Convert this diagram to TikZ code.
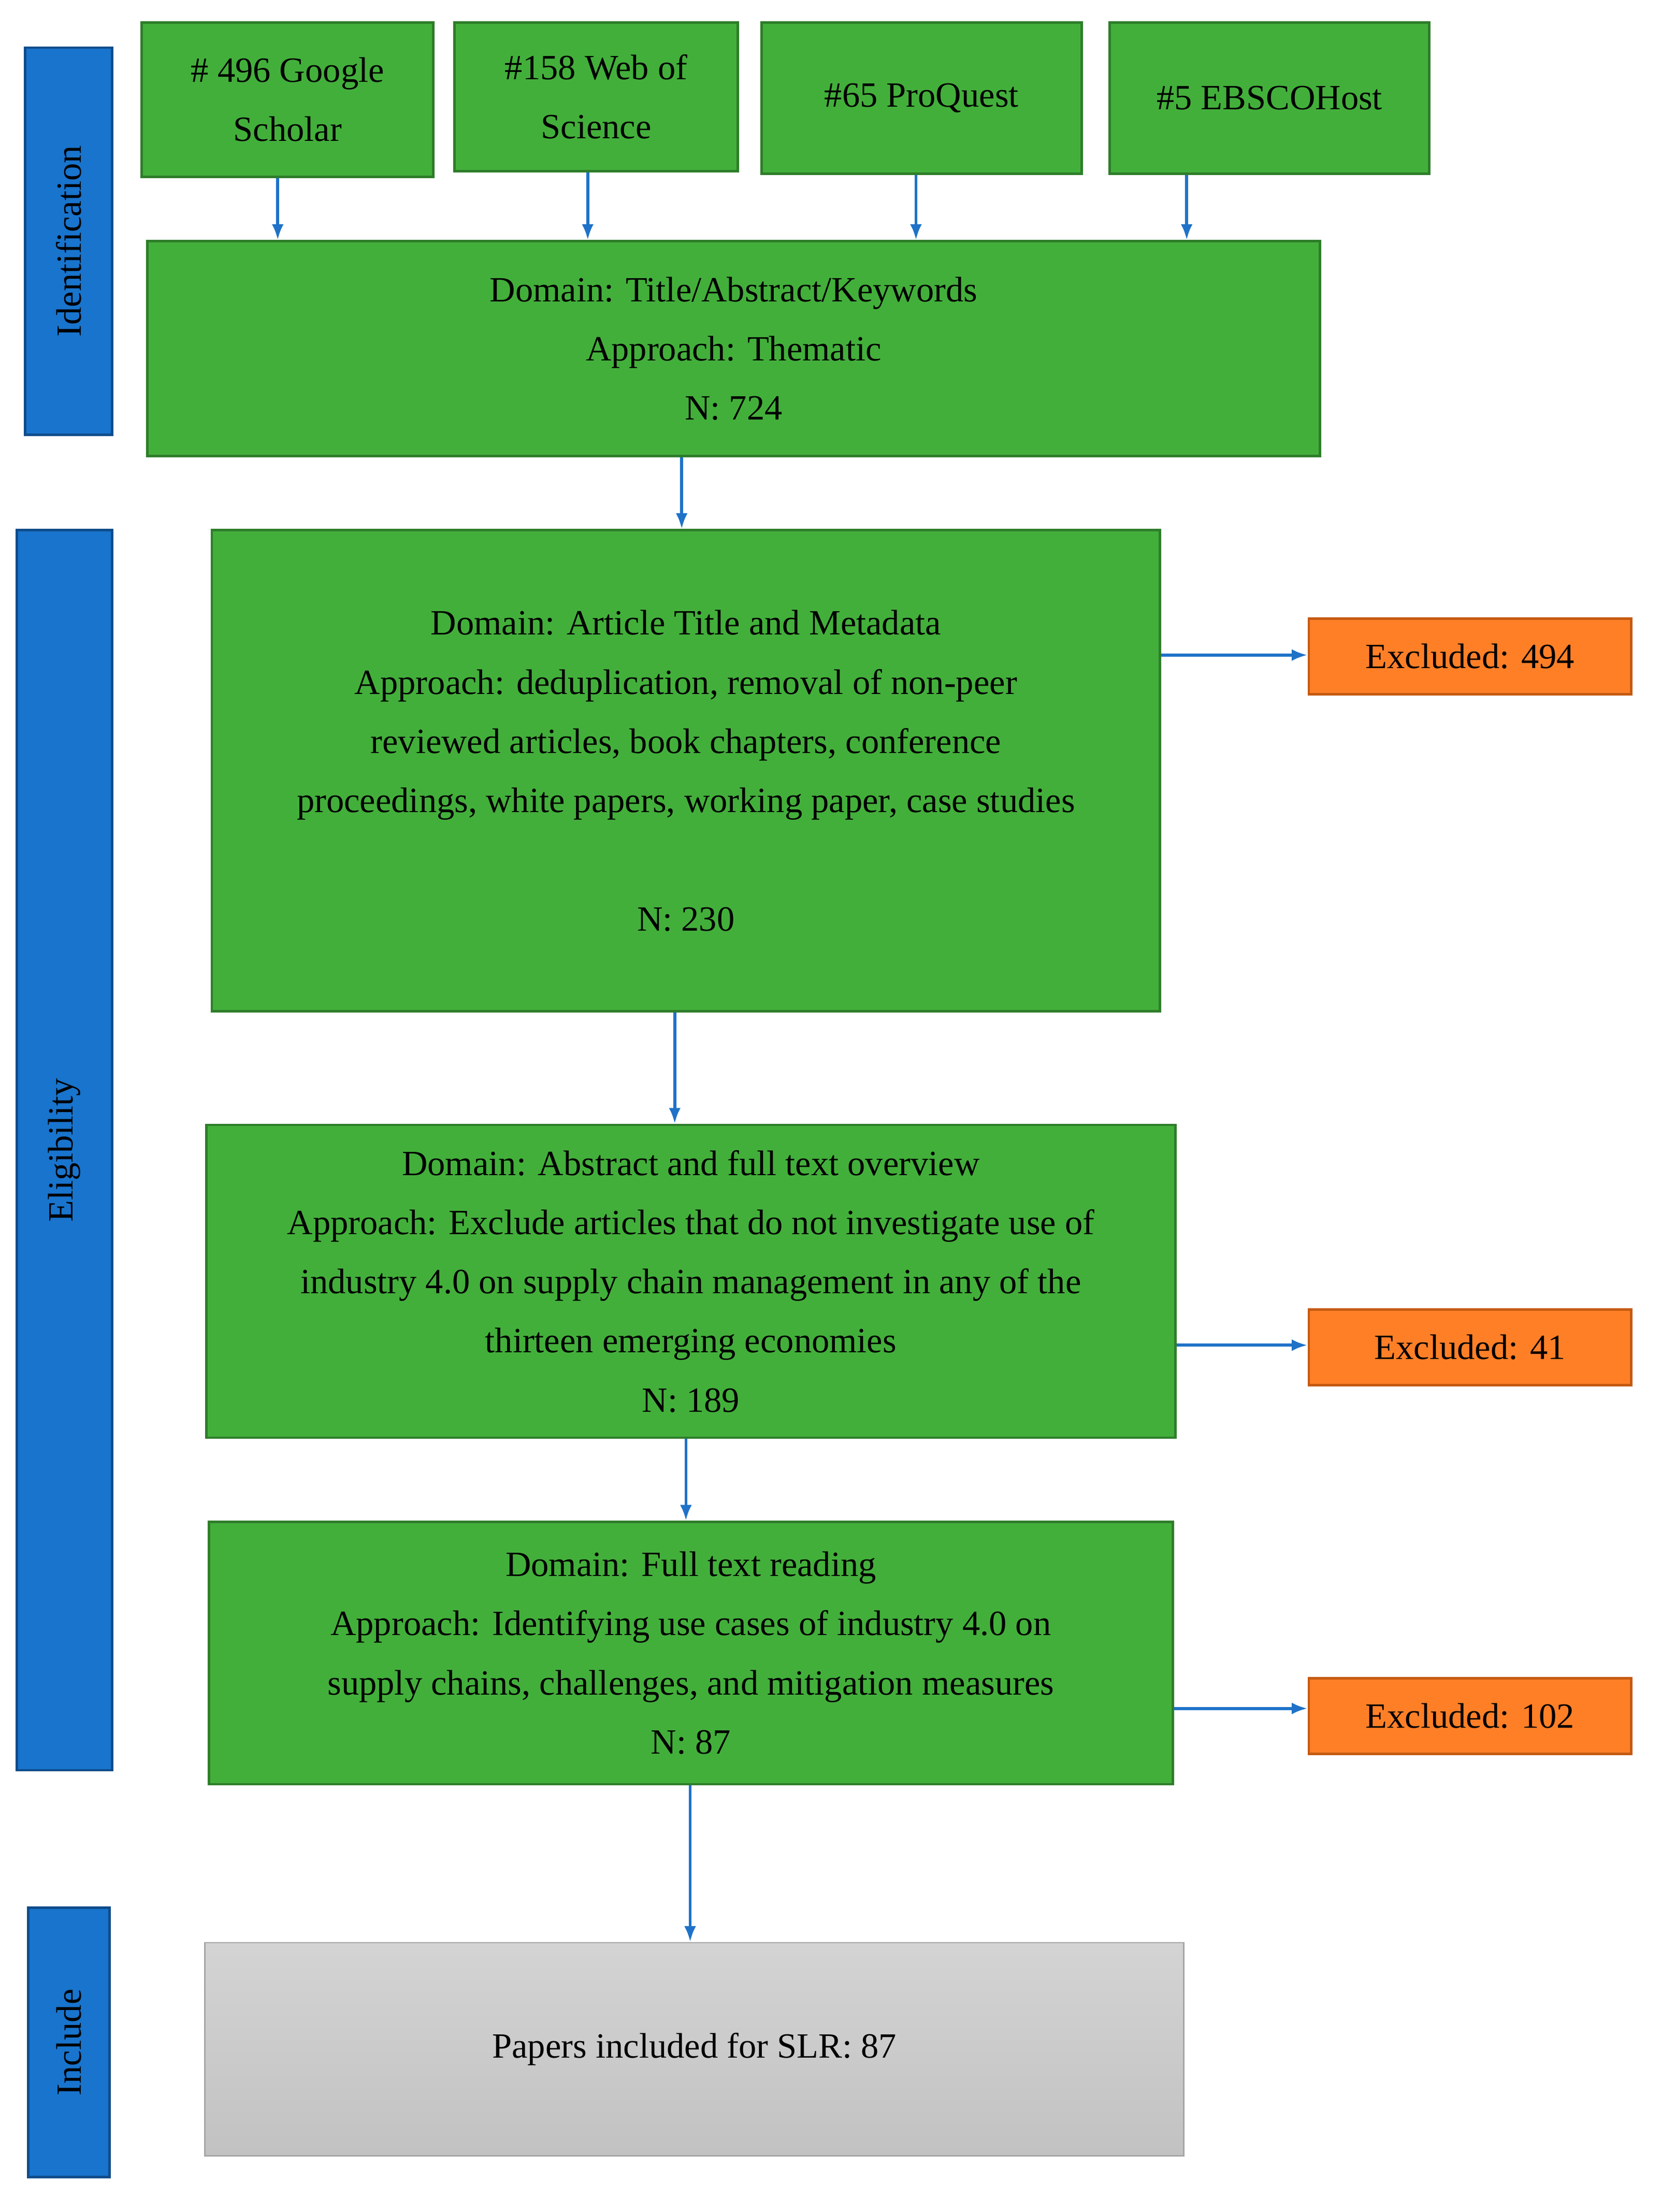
\documentclass[tikz,border=0pt]{standalone}
\usepackage{fontspec}
\setmainfont{Liberation Serif}
\usetikzlibrary{arrows.meta}
\begin{document}
\begin{tikzpicture}[x=0.05cm,y=-0.05cm,
  every node/.style={font=\fontsize{36}{60}\selectfont, align=center, inner sep=0pt},
  gbox/.style={draw=gbord, fill=gfill, line width=2.5pt},
  obox/.style={draw=obord, fill=ofill, line width=2.5pt},
  bbox/.style={draw=bbord, fill=bfill, line width=2.5pt, rotate=90},
  arr/.style={draw=arrc, line width=3pt, -{Latex[length=16pt,width=12pt]}}]
\definecolor{gfill}{HTML}{43AF3B}
\definecolor{gbord}{HTML}{2E7D2A}
\definecolor{ofill}{HTML}{FF7F27}
\definecolor{obord}{HTML}{C55A11}
\definecolor{bfill}{HTML}{1874CD}
\definecolor{bbord}{HTML}{0F4C8A}
\definecolor{arrc}{HTML}{1F72C8}
\useasboundingbox (0,0) rectangle (1184,1577);
\node[bbox, minimum width=276*0.05cm, minimum height=62*0.05cm] (id) at (49,172) {Identification};
\node[bbox, minimum width=884*0.05cm, minimum height=68*0.05cm] (el) at (46,820) {Eligibility};
\node[bbox, minimum width=192*0.05cm, minimum height=58*0.05cm] (in) at (49,1456) {Include};
\node[gbox, minimum width=208*0.05cm, minimum height=110*0.05cm] (gs) at (205,71) {\# 496 Google\\Scholar};
\node[gbox, minimum width=202*0.05cm, minimum height=106*0.05cm] (ws) at (425,69) {\#158 Web of\\Science};
\node[gbox, minimum width=228*0.05cm, minimum height=108*0.05cm] (pq) at (657,70) {\#65 ProQuest};
\node[gbox, minimum width=228*0.05cm, minimum height=108*0.05cm] (eb) at (905,70) {\#5 EBSCOHost};
\node[gbox, minimum width=836*0.05cm, minimum height=153*0.05cm] (b1) at (523,248.5) {Domain: Title/Abstract/Keywords\\Approach: Thematic\\N: 724};
\node[gbox, minimum width=676*0.05cm, minimum height=343*0.05cm] (b2) at (489,549.5) {Domain: Article Title and Metadata\\Approach: deduplication, removal of non-peer\\reviewed articles, book chapters, conference\\proceedings, white papers, working paper, case studies\\[60pt]N: 230};
\node[gbox, minimum width=691*0.05cm, minimum height=223*0.05cm] (b3) at (492.5,913.5) {Domain: Abstract and full text overview\\Approach: Exclude articles that do not investigate use of\\industry 4.0 on supply chain management in any of the\\thirteen emerging economies\\N: 189};
\node[gbox, minimum width=687*0.05cm, minimum height=187*0.05cm] (b4) at (492.5,1178.5) {Domain: Full text reading\\Approach: Identifying use cases of industry 4.0 on\\supply chains, challenges, and mitigation measures\\N: 87};
\node[draw=gray!70, line width=1.5pt, top color=black!17, bottom color=black!24, minimum width=698*0.05cm, minimum height=152*0.05cm] (fin) at (495,1461) {Papers included for SLR: 87};
\node[obox, minimum width=230*0.05cm, minimum height=54*0.05cm] (e1) at (1048,468) {Excluded: 494};
\node[obox, minimum width=230*0.05cm, minimum height=54*0.05cm] (e2) at (1048,960.5) {Excluded: 41};
\node[obox, minimum width=230*0.05cm, minimum height=54*0.05cm] (e3) at (1048,1223.5) {Excluded: 102};
\coordinate (xa) at (198,0); \coordinate (xb) at (419,0);
\coordinate (xc) at (653,0); \coordinate (xd) at (846,0);
\coordinate (x1) at (486,0); \coordinate (x2) at (481,0);
\coordinate (x3) at (489,0); \coordinate (x4) at (492,0);
\coordinate (y1) at (0,467); \coordinate (y2) at (0,959); \coordinate (y3) at (0,1218);
\draw[arr] (gs.south -| xa) -- (b1.north -| xa);
\draw[arr] (ws.south -| xb) -- (b1.north -| xb);
\draw[arr] (pq.south -| xc) -- (b1.north -| xc);
\draw[arr] (eb.south -| xd) -- (b1.north -| xd);
\draw[arr] (b1.south -| x1) -- (b2.north -| x1);
\draw[arr] (b2.south -| x2) -- (b3.north -| x2);
\draw[arr] (b3.south -| x3) -- (b4.north -| x3);
\draw[arr] (b4.south -| x4) -- (fin.north -| x4);
\draw[arr] (b2.east |- y1) -- (e1.west |- y1);
\draw[arr] (b3.east |- y2) -- (e2.west |- y2);
\draw[arr] (b4.east |- y3) -- (e3.west |- y3);
\end{tikzpicture}
\end{document}
